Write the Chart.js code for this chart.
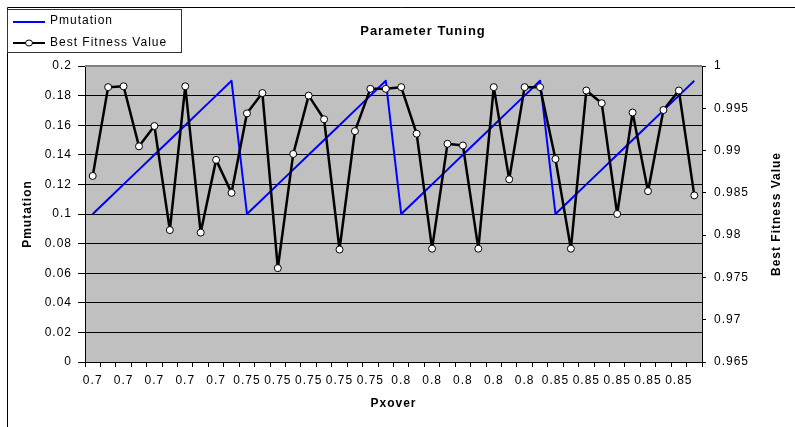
<!DOCTYPE html>
<html>
<head>
<meta charset="utf-8">
<script src="https://cdn.jsdelivr.net/npm/chart.js@4/dist/chart.umd.min.js"></script>
<style>
html,body{margin:0;padding:0;background:#fff;}
canvas{display:block;}
</style>
</head>
<body>
<canvas id="c" width="795" height="427"></canvas>
<script>
// ---- data ----
const pxover = [
  '0.7','0.7','0.7','0.7','0.7','0.7','0.7','0.7','0.7','0.7',
  '0.75','0.75','0.75','0.75','0.75','0.75','0.75','0.75','0.75','0.75',
  '0.8','0.8','0.8','0.8','0.8','0.8','0.8','0.8','0.8','0.8',
  '0.85','0.85','0.85','0.85','0.85','0.85','0.85','0.85','0.85','0.85'
];
const pmutation = [
  0.10,0.11,0.12,0.13,0.14,0.15,0.16,0.17,0.18,0.19,
  0.10,0.11,0.12,0.13,0.14,0.15,0.16,0.17,0.18,0.19,
  0.10,0.11,0.12,0.13,0.14,0.15,0.16,0.17,0.18,0.19,
  0.10,0.11,0.12,0.13,0.14,0.15,0.16,0.17,0.18,0.19
];
const bestFitness = [
  0.9870,0.9975,0.9976,0.9905,0.9929,0.9806,0.9976,0.9803,0.9889,0.9850,
  0.9944,0.9968,0.9761,0.9896,0.9965,0.9937,0.9783,0.9923,0.9973,0.9973,
  0.9975,0.9920,0.9784,0.9908,0.9906,0.9784,0.9975,0.9866,0.9975,0.9975,
  0.9890,0.9784,0.9971,0.9956,0.9825,0.9945,0.9852,0.9948,0.9971,0.9847
];
const chartTitle = 'Parameter Tuning';
const seriesNames = ['Pmutation', 'Best Fitness Value'];
const xTitle = 'Pxover';
const yLeftTitle = 'Pmutation';
const yRightTitle = 'Best Fitness Value';

const FONT = "'Liberation Sans', Arial, sans-serif";

const decorPlugin = {
  id: 'decor',
  beforeLayout(chart){ chart.ctx.letterSpacing = '1px'; },
  beforeDraw(chart){
    const ctx = chart.ctx, a = chart.chartArea;
    ctx.save();
    ctx.fillStyle = '#fff';
    ctx.fillRect(0,0,chart.width,chart.height);
    // outer chart border
    ctx.strokeStyle = '#000';
    ctx.lineWidth = 1;
    ctx.beginPath();
    ctx.moveTo(7.5, chart.height + 2);
    ctx.lineTo(7.5, 7.5);
    ctx.lineTo(chart.width + 2, 7.5);
    ctx.stroke();
    // plot background
    ctx.fillStyle = '#C0C0C0';
    ctx.fillRect(a.left, a.top, a.right - a.left, a.bottom - a.top);
    ctx.restore();
    chart.ctx.letterSpacing = '1px';
  },
  beforeDatasetsDraw(chart){
    const ctx = chart.ctx, a = chart.chartArea;
    ctx.save();
    ctx.strokeStyle = '#808080';
    ctx.lineWidth = 2;
    ctx.beginPath();
    ctx.moveTo(a.left, a.top);
    ctx.lineTo(a.right, a.top);
    ctx.stroke();
    ctx.restore();
  },
  afterDraw(chart){
    const ctx = chart.ctx, a = chart.chartArea;
    ctx.save();
    ctx.letterSpacing = '1px';
    // title
    ctx.fillStyle = '#000';
    ctx.font = 'bold 13px ' + FONT;
    ctx.textAlign = 'center';
    ctx.textBaseline = 'middle';
    ctx.fillText(chartTitle, 423, 31);
    // right axis title, reading bottom-to-top
    ctx.save();
    ctx.translate(777, (a.top + a.bottom) / 2);
    ctx.rotate(-Math.PI / 2);
    ctx.font = 'bold 12px ' + FONT;
    ctx.fillText(yRightTitle, 0, 0);
    ctx.restore();
    // legend box
    ctx.fillStyle = '#fff';
    ctx.fillRect(7.5, 9.5, 174, 43);
    ctx.strokeStyle = '#333';
    ctx.lineWidth = 1;
    ctx.strokeRect(7.5, 9.5, 174, 43);
    // legend entry 1
    ctx.strokeStyle = '#0000FF';
    ctx.lineWidth = 2;
    ctx.beginPath(); ctx.moveTo(13, 22); ctx.lineTo(45, 22); ctx.stroke();
    // legend entry 2
    ctx.strokeStyle = '#000';
    ctx.lineWidth = 2;
    ctx.beginPath(); ctx.moveTo(13, 43); ctx.lineTo(45, 43); ctx.stroke();
    ctx.fillStyle = '#fff';
    ctx.lineWidth = 1;
    ctx.beginPath(); ctx.ellipse(29, 43, 3.5, 3, 0, 0, Math.PI*2); ctx.fill(); ctx.stroke();
    ctx.fillStyle = '#000';
    ctx.font = '12px ' + FONT;
    ctx.textAlign = 'left';
    ctx.fillText(seriesNames[0], 50, 21);
    ctx.fillText(seriesNames[1], 50, 43);
    ctx.restore();
  }
};

const fmt = v => String(+Number(v).toFixed(4));

new Chart(document.getElementById('c'), {
  type: 'line',
  data: {
    labels: pxover,
    datasets: [
      {
        label: seriesNames[0],
        data: pmutation,
        yAxisID: 'y',
        borderColor: '#0000FF',
        borderWidth: 2,
        borderJoinStyle: 'round',
        pointRadius: 0,
        tension: 0,
        order: 1
      },
      {
        label: seriesNames[1],
        data: bestFitness,
        yAxisID: 'y1',
        borderColor: '#000000',
        borderWidth: 2.5,
        borderJoinStyle: 'round',
        pointRadius: 3.5,
        pointBorderWidth: 1,
        pointBackgroundColor: '#FFFFFF',
        pointBorderColor: '#000000',
        tension: 0,
        order: 0
      }
    ]
  },
  options: {
    responsive: false,
    animation: false,
    devicePixelRatio: 1,
    layout: { padding: { top: 66, left: 0, right: 0, bottom: 0 } },
    plugins: {
      legend: { display: false },
      title: { display: false },
      tooltip: { enabled: false }
    },
    scales: {
      x: {
        type: 'category',
        offset: true,
        grid: { display: true, drawOnChartArea: false, offset: true, tickLength: 5, tickColor: '#000', tickWidth: 1 },
        border: { display: true, color: '#000', width: 1 },
        ticks: {
          autoSkip: false, maxRotation: 0, minRotation: 0, padding: 6,
          color: '#000', font: { family: FONT, size: 12 },
          callback: function(v, i){ return i % 2 === 0 ? this.getLabelForValue(v) : ''; }
        },
        title: { display: true, text: xTitle, color: '#000', font: { family: FONT, size: 12, weight: 'bold' }, padding: { top: 0, bottom: 16 } },
        afterFit(s){ s.height = 65; }
      },
      y: {
        position: 'left',
        min: 0, max: 0.2,
        ticks: { stepSize: 0.02, padding: 6, color: '#000', font: { family: FONT, size: 12 }, callback: fmt },
        grid: {
          color: ctx => (ctx.tick && Math.abs(ctx.tick.value - 0.2) < 1e-9) ? 'rgba(0,0,0,0)' : '#000',
          tickColor: '#000', tickLength: 7, lineWidth: 1
        },
        border: { display: true, color: '#000', width: 1 },
        title: { display: true, text: yLeftTitle, color: '#000', font: { family: FONT, size: 12, weight: 'bold' }, padding: { top: 20, bottom: 0 } },
        afterFit(s){ s.width = 85; }
      },
      y1: {
        position: 'right',
        min: 0.965, max: 1,
        ticks: { stepSize: 0.005, padding: 8, color: '#000', font: { family: FONT, size: 12 }, callback: fmt },
        grid: { drawOnChartArea: false, tickColor: '#000', tickLength: 4 },
        border: { display: true, color: '#000', width: 1 },
        title: { display: false },
        afterFit(s){ s.width = 93; }
      }
    }
  },
  plugins: [decorPlugin]
});
</script>
</body>
</html>
